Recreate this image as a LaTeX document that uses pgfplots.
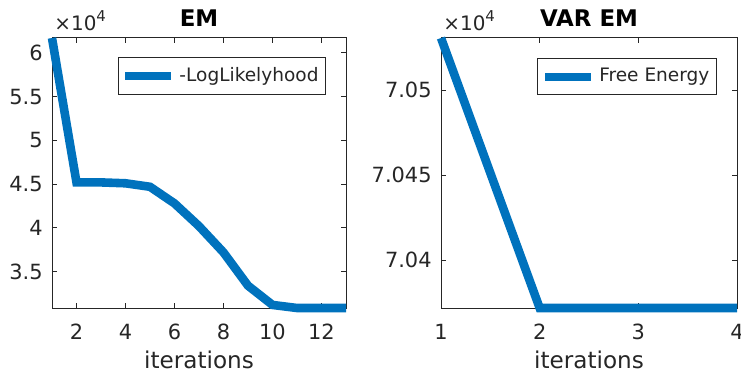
\documentclass[border=0pt]{standalone}
\usepackage{pgfplots}
\pgfplotsset{compat=1.18}
\usepackage{fontspec}
\setmainfont{DejaVu Sans}
\definecolor{mblue}{HTML}{0072BD}
\definecolor{mgray}{HTML}{262626}
\pgfplotsset{
  mstyle/.style={
    scale only axis,
    height=135bp,
    clip=false,
    axis line style={mgray, line width=0.5bp},
    every tick/.style={mgray, line width=0.5bp},
    major tick length=2.5bp,
    tick align=inside,
    /pgf/number format/assume math mode=true,
    tick label style={font=\fontsize{10.5}{12}\selectfont, text=mgray},
    xticklabel style={inner sep=0pt, yshift=-8bp},
    yticklabel style={inner sep=0pt, xshift=-4.5bp},
    xlabel style={at={(axis description cs:0.5,0)}, anchor=center, yshift=-26bp, font=\fontsize{11.6}{13}\selectfont, text=mgray},
    every axis title/.style={at={(axis description cs:0.5,1)}, anchor=center, yshift=10bp, font=\fontsize{11.5}{13}\selectfont\bfseries, text=black},
    legend style={draw=mgray, line width=0.5bp, font=\fontsize{9.3}{11}\selectfont, text=mgray, inner xsep=1.5bp, inner ysep=3bp, row sep=0pt},
    legend cell align=left,
    legend image code/.code={\draw[mblue, line width=4.2bp, line cap=butt] (0bp,0bp) -- (23bp,0bp);},
    scaled y ticks=false,
  },
  mline/.style={mblue, line width=4.3bp, line cap=butt, line join=miter, mark=none},
}
\begin{document}
\begin{tikzpicture}
\useasboundingbox (0,0) rectangle (370.5bp,187.5bp);
\begin{axis}[mstyle,
  at={(26bp,33.5bp)}, anchor=south west,
  width=147bp,
  xmin=1, xmax=13, ymin=30850, ymax=61700,
  xtick={2,4,6,8,10,12},
  ytick={35000,40000,45000,50000,55000,60000},
  yticklabels={3.5,4,4.5,5,5.5,6},
  xlabel={iterations},
  title={EM},
  legend style={at={(rel axis cs:0.932,0.93)}, anchor=north east},
]
\addplot[mline] coordinates {
 (1,61700) (2,45200) (3,45200) (4,45100) (5,44700) (6,42800) (7,40200)
 (8,37200) (9,33400) (10,31200) (11,30850) (12,30850) (13,30850)
};
\addlegendentry{-LogLikelyhood}
\node[anchor=south west, inner sep=0pt, text=mgray, font=\fontsize{10}{12}\selectfont] at (rel axis cs:0,1) [xshift=1bp, yshift=3.5bp] {×10\raisebox{0.45em}{\fontsize{7.5}{8}\selectfont 4}};
\end{axis}
\begin{axis}[mstyle,
  at={(220.5bp,33.5bp)}, anchor=south west,
  width=148bp,
  xmin=1, xmax=4, ymin=70371.8, ymax=70530.6,
  xtick={1,2,3,4},
  ytick={70400,70450,70500},
  yticklabels={7.04,7.045,7.05},
  xlabel={iterations},
  title={VAR EM},
  legend style={at={(rel axis cs:0.932,0.926)}, anchor=north east},
]
\addplot[mline] coordinates {
 (1,70530.6) (2,70371.8) (3,70371.8) (4,70371.8)
};
\addlegendentry{Free Energy}
\node[anchor=south west, inner sep=0pt, text=mgray, font=\fontsize{10}{12}\selectfont] at (rel axis cs:0,1) [xshift=1bp, yshift=3.5bp] {×10\raisebox{0.45em}{\fontsize{7.5}{8}\selectfont 4}};
\end{axis}
\end{tikzpicture}
\end{document}
